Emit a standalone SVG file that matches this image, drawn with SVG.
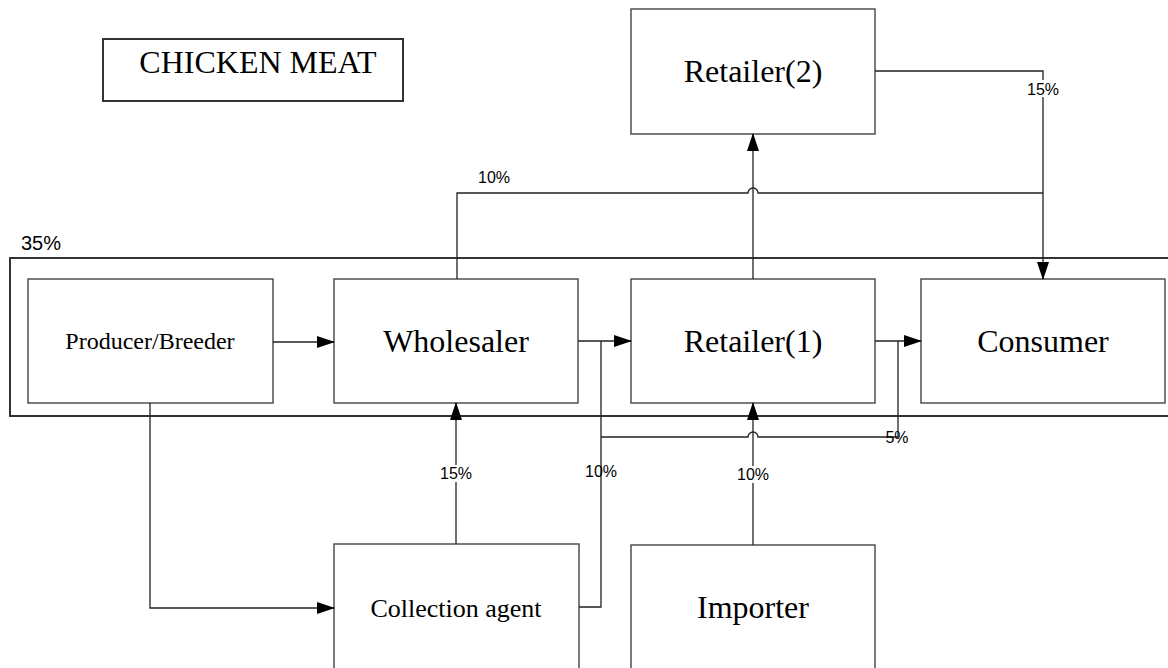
<svg xmlns="http://www.w3.org/2000/svg" width="1168" height="668" viewBox="0 0 1168 668">
<defs>
<marker id="arr" markerUnits="userSpaceOnUse" markerWidth="18" markerHeight="12" refX="17" refY="6" orient="auto">
<path d="M0,0 L18,6 L0,12 Z" fill="#000"/>
</marker>
<style>
.box{fill:#fff;stroke:#444;stroke-width:1.4}
.frame{fill:none;stroke:#333;stroke-width:2}
.lbl{font-family:"Liberation Serif","Times New Roman",serif;fill:#000;text-anchor:middle}
.pct{font-family:"Liberation Sans",Arial,sans-serif;font-size:16px;fill:#000;text-anchor:middle}
.cn{fill:none;stroke:#222;stroke-width:1.3}
</style>
</defs>
<rect width="1168" height="668" fill="#fff"/>
<g id="title">
<rect x="103" y="39" width="300" height="62" class="frame"/>
<text x="258" y="73" class="lbl" font-size="32">CHICKEN MEAT</text>
</g>
<g id="container">
<rect x="10" y="258" width="1170" height="158" class="frame"/>
<text x="41" y="250" font-family="Liberation Sans, Arial, sans-serif" font-size="20" text-anchor="middle">35%</text>
</g>
<g id="producer">
<rect x="28" y="279" width="245" height="124" class="box"/>
<text x="150" y="349" class="lbl" font-size="24">Producer/Breeder</text>
</g>
<g id="wholesaler">
<rect x="334" y="279" width="244" height="124" class="box"/>
<text x="456" y="352" class="lbl" font-size="32">Wholesaler</text>
</g>
<g id="retailer1">
<rect x="631" y="279" width="244" height="124" class="box"/>
<text x="753" y="352" class="lbl" font-size="32">Retailer(1)</text>
</g>
<g id="consumer">
<rect x="921" y="279" width="244" height="124" class="box"/>
<text x="1043" y="352" class="lbl" font-size="32">Consumer</text>
</g>
<g id="retailer2">
<rect x="631" y="9" width="244" height="125" class="box"/>
<text x="753" y="82" class="lbl" font-size="32">Retailer(2)</text>
</g>
<g id="collection">
<rect x="334" y="544" width="245" height="140" class="box"/>
<text x="456" y="617" class="lbl" font-size="26">Collection agent</text>
</g>
<g id="importer">
<rect x="631" y="545" width="244" height="140" class="box"/>
<text x="753" y="618" class="lbl" font-size="32">Importer</text>
</g>
<g id="connectors">
<path class="cn" d="M273,342 H334" marker-end="url(#arr)"/>
<path class="cn" d="M578,341 H631" marker-end="url(#arr)"/>
<path class="cn" d="M875,341 H921" marker-end="url(#arr)"/>
<path class="cn" d="M579,607 H601 V341"/>
<path class="cn" d="M601,437 H748 A5,5 0 0 1 758,437 H898 V341"/>
<path class="cn" d="M150,403 V608 H334" marker-end="url(#arr)"/>
<path class="cn" d="M456,544 V403" marker-end="url(#arr)"/>
<path class="cn" d="M753,545 V403" marker-end="url(#arr)"/>
<path class="cn" d="M753,279 V134" marker-end="url(#arr)"/>
<path class="cn" d="M457,279 V193 H748 A5,5 0 0 1 758,193 H1043"/>
<path class="cn" d="M875,71 H1043 V279" marker-end="url(#arr)"/>
</g>
<g id="labels">
<text x="494" y="183" class="pct">10%</text>
<rect x="1026" y="80" width="34" height="17" fill="#fff"/>
<text x="1043" y="95" class="pct">15%</text>
<rect x="439" y="465" width="34" height="17" fill="#fff"/>
<text x="456" y="479" class="pct">15%</text>
<text x="601" y="477" class="pct">10%</text>
<rect x="736" y="466" width="34" height="17" fill="#fff"/>
<text x="753" y="480" class="pct">10%</text>
<text x="897" y="443" class="pct">5%</text>
</g>
</svg>
